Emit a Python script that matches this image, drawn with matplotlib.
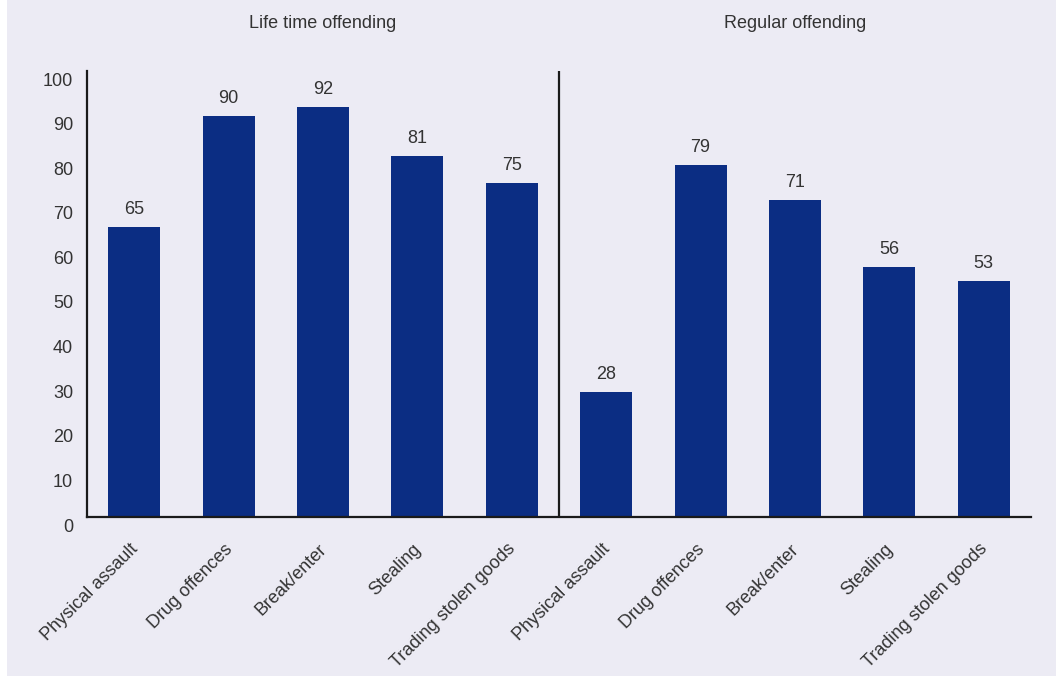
import numpy as np
import matplotlib.pyplot as plt
import matplotlib.transforms as mtransforms
from matplotlib.patches import Rectangle

# --- data ---
CATEGORIES = ['Physical assault', 'Drug offences', 'Break/enter', 'Stealing',
              'Trading stolen goods']
LIFETIME = [65, 90, 92, 81, 75]
REGULAR = [28, 79, 71, 56, 53]
PANEL_TITLES = ['Life time offending', 'Regular offending']
Y_TICKS = [0, 10, 20, 30, 40, 50, 60, 70, 80, 90, 100]

BG = '#ECEBF4'
BAR = '#0B2D83'
TXT = '#333333'

plt.rcParams['font.family'] = ['Liberation Sans Narrow', 'Liberation Sans', 'DejaVu Sans']

fig = plt.figure(figsize=(10.56, 6.76), dpi=100)
fig.patch.set_facecolor(BG)
# thin white strip along the left edge
fig.patches.append(Rectangle((0, 0), 7 / 1056, 1, transform=fig.transFigure,
                             facecolor='white', edgecolor='none', zorder=0))

ax = fig.add_axes([87 / 1056, 1 - 517 / 676, (1031 - 87) / 1056, (517 - 71) / 676])
ax.set_facecolor(BG)
ax.set_zorder(2)

values = LIFETIME + REGULAR
labels = CATEGORIES + CATEGORIES
x = np.arange(len(values))
ax.bar(x, values, width=0.55, color=BAR, zorder=2)

for xi, v in zip(x, values):
    ax.text(xi, v + 2.0, f'{v}', ha='center', va='bottom', fontsize=13, color=TXT)

ax.set_xlim(-0.5, len(values) - 0.5)
ax.set_ylim(0, 100)

# divider between the two panels
ax.axvline(4.5, color='#1a1a1a', lw=1.6, zorder=3)

for i, title in enumerate(PANEL_TITLES):
    ax.text(2 + 5 * i, 1 - 23 / 676, title, transform=mtransforms.blended_transform_factory(
        ax.transData, fig.transFigure), ha='center', va='center', fontsize=13, color=TXT)

ax.set_yticks(Y_TICKS)
ax.set_yticklabels([str(t) for t in Y_TICKS], fontsize=13, color=TXT)
ax.set_xticks(x)
ax.set_xticklabels(labels, rotation=45, ha='right', va='top', rotation_mode='anchor',
                   fontsize=13, color=TXT)
ax.tick_params(axis='both', length=0)
ax.tick_params(axis='y', pad=10)
ax.tick_params(axis='x', pad=17)

# y labels sit a bit below their gridline in the original
offset = mtransforms.ScaledTranslation(0, -8 / 100, fig.dpi_scale_trans)
for lab in ax.get_yticklabels():
    lab.set_transform(lab.get_transform() + offset)
offx = mtransforms.ScaledTranslation(-5 / 100, 0, fig.dpi_scale_trans)
for lab in ax.get_xticklabels():
    lab.set_transform(lab.get_transform() + offx)

for side in ['top', 'right']:
    ax.spines[side].set_visible(False)
for side in ['left', 'bottom']:
    ax.spines[side].set_color('#1a1a1a')
    ax.spines[side].set_linewidth(1.6)

fig.savefig('out.png', dpi=100, facecolor=fig.get_facecolor())
